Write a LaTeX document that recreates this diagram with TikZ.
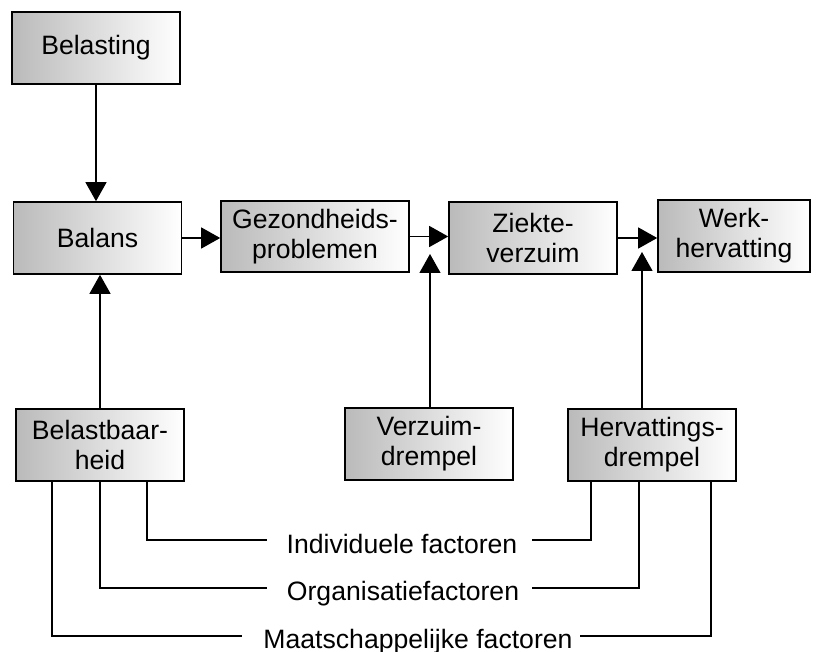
\documentclass[tikz,border=0pt]{standalone}
\usepackage{fontspec}
\setmainfont{Liberation Sans}
\usetikzlibrary{arrows.meta}
\begin{document}
\begin{tikzpicture}[x=1pt,y=-1pt,
  box/.style={draw=black, line width=1.6pt, left color=black!27, right color=white,
    minimum width=168pt, minimum height=72pt, inner sep=0pt, align=center,
    font=\fontsize{26.6}{30}\selectfont},
  conn/.style={line width=1.3pt},
  arr/.style={conn, -{Triangle[length=19pt,width=21pt]}},
  lbl/.style={font=\fontsize{26.6}{30}\selectfont, inner sep=0pt, anchor=base}]
\useasboundingbox[fill=white] (0,0) rectangle (817,652);
% boxes
\node[box] (bel) at (96,48) {Belasting};
\node[box] (bal) at (97.5,238) {Balans};
\node[box, minimum width=188pt, minimum height=71pt] (gez) at (315,236.5) {Gezondheids-\\problemen};
\node[box] (zie) at (533,238) {Ziekte-\\verzuim};
\node[box, minimum width=152pt] (werk) at (734,236) {Werk-\\hervatting};
\node[box] (bb) at (100,445) {Belastbaar-\\heid};
\node[box] (vz) at (429,444) {Verzuim-\\drempel};
\node[box] (hv) at (652,445) {Hervattings-\\drempel};
% labels
\node[lbl] (f1) at (402,553) {Individuele factoren};
\node[lbl] (f2) at (403,600) {Organisatiefactoren};
\node[lbl] (f3) at (418,648) {Maatschappelijke factoren};
% arrows
\draw[arr] (bel.south) -- (bel.south |- bal.north);
\draw[arr] (bb.north) -- (bb.north |- bal.south);
\draw[arr] (bal.east) -- (bal.east -| gez.west);
\draw[arr] (gez.east) -- (gez.east -| zie.west);
\draw[arr] (zie.east) -- (zie.east -| werk.west);
\coordinate (g1) at (430,254);
\coordinate (g2) at (642,252);
\draw[arr] (vz.north -| g1) -- (g1);
\draw[arr] (hv.north -| g2) -- (g2);
% factor lines
\coordinate (l1) at (267,540); \coordinate (r1) at (532,540);
\coordinate (l2) at (267,588); \coordinate (r2) at (532,588);
\coordinate (l3) at (242,636); \coordinate (r3) at (580,636);
\draw[conn] ([xshift=47pt]bb.south) |- (l1);
\draw[conn] (r1) -| ([xshift=-61pt]hv.south);
\draw[conn] (bb.south) |- (l2);
\draw[conn] (r2) -| ([xshift=-13pt]hv.south);
\draw[conn] ([xshift=-48pt]bb.south) |- (l3);
\draw[conn] (r3) -| ([xshift=59pt]hv.south);
\end{tikzpicture}
\end{document}
